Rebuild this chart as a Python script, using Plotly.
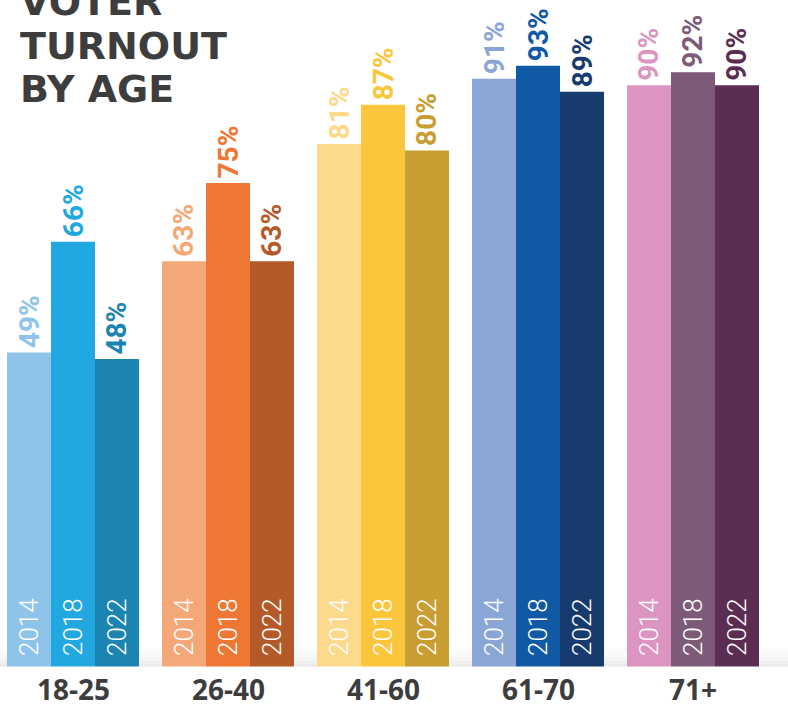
import plotly.graph_objects as go

# ---- data ----
categories = ["18-25", "26-40", "41-60", "61-70", "71+"]
years = ["2014", "2018", "2022"]
turnout_2014 = [49, 63, 81, 91, 90]
turnout_2018 = [66, 75, 87, 93, 92]
turnout_2022 = [48, 63, 80, 89, 90]
title_lines = ["VOTER", "TURNOUT", "BY AGE"]

# ---- styles ----
colors_2014 = ["#8fc4ea", "#f4a877", "#fdd98c", "#89a6d5", "#dc94c1"]
colors_2018 = ["#22a8e0", "#ee7734", "#fcc63c", "#1059a5", "#7d5a78"]
colors_2022 = ["#1c84b1", "#b45a28", "#c89d31", "#173b6c", "#5b2d52"]
series = [turnout_2014, turnout_2018, turnout_2022]
series_colors = [colors_2014, colors_2018, colors_2022]

W, H = 788, 704
base_px = 672          # pixel row of y=0
px_per_pct = 6.52
bar_px = 44
dark = "#3d3d3d"

fig = go.Figure()
for yr, vals, cols in zip(years, series, series_colors):
    fig.add_trace(go.Bar(x=categories, y=vals, name=yr, marker=dict(color=cols, line=dict(width=0)),
                         hoverinfo="skip"))

ann = []
for i, (yr, vals, cols) in enumerate(zip(years, series, series_colors)):
    for j, (cat, v) in enumerate(zip(categories, vals)):
        # value label above bar
        ann.append(dict(x=cat, y=v, xref="x", yref="y", text=f"{v}%", textangle=-90,
                        xanchor="center", yanchor="bottom", xshift=(i - 1) * bar_px, yshift=2,
                        showarrow=False,
                        font=dict(family="Liberation Sans Narrow, Roboto, sans-serif", size=28,
                                  color=cols[j], weight="bold")))
        # year label inside bar
        ann.append(dict(x=cat, y=0, xref="x", yref="y", text=yr, textangle=-90,
                        xanchor="center", yanchor="bottom", xshift=(i - 1) * bar_px, yshift=14,
                        showarrow=False,
                        font=dict(family="Roboto, sans-serif", size=26, color="white", weight=300)))

def py2paper(py):
    return (base_px - py) / base_px

# category labels
for cat in categories:
    ann.append(dict(x=cat, y=py2paper(689), xref="x", yref="paper", text=cat,
                    xanchor="center", yanchor="middle", showarrow=False,
                    font=dict(family="Open Sans, sans-serif", size=28, color=dark, weight="bold")))

# title lines
title_centers = [2, 46, 89]
for line, cy in zip(title_lines, title_centers):
    ann.append(dict(x=0, y=py2paper(cy), xref="paper", yref="paper", text=line,
                    xanchor="left", yanchor="middle", xshift=18, showarrow=False,
                    font=dict(family="DejaVu Sans, sans-serif", size=38, color=dark, weight="bold")))

shapes = []
# soft shadow band under the bars
bands = [(648, 653, 0.025), (653, 657, 0.05), (657, 661, 0.08), (661, 664, 0.12), (664, 667, 0.17)]
for y0, y1, op in bands:
    shapes.append(dict(type="rect", xref="paper", yref="paper", x0=0, x1=1,
                       y0=py2paper(y1), y1=py2paper(y0), fillcolor="#808080", opacity=op,
                       line=dict(width=0), layer="below"))
# white cover below bar ends
shapes.append(dict(type="rect", xref="paper", yref="paper", x0=0, x1=1,
                   y0=py2paper(base_px + 2), y1=py2paper(666.5), fillcolor="white",
                   line=dict(width=0), layer="above"))

pitch = 155
c0 = 73
fig.update_layout(
    width=W, height=H,
    margin=dict(l=0, r=0, t=0, b=H - base_px, pad=0),
    paper_bgcolor="white", plot_bgcolor="white",
    barmode="group", bargap=23 / pitch, bargroupgap=0,
    showlegend=False,
    xaxis=dict(range=[-c0 / pitch, (W - c0) / pitch], showticklabels=False, showgrid=False,
               zeroline=False, showline=False, ticks=""),
    yaxis=dict(range=[0, base_px / px_per_pct], visible=False, showgrid=False, zeroline=False),
    annotations=ann,
    shapes=shapes,
)

fig.write_html("out.html", config={"displayModeBar": False},
               post_script="document.body.style.margin='0';document.body.style.overflow='hidden';")
